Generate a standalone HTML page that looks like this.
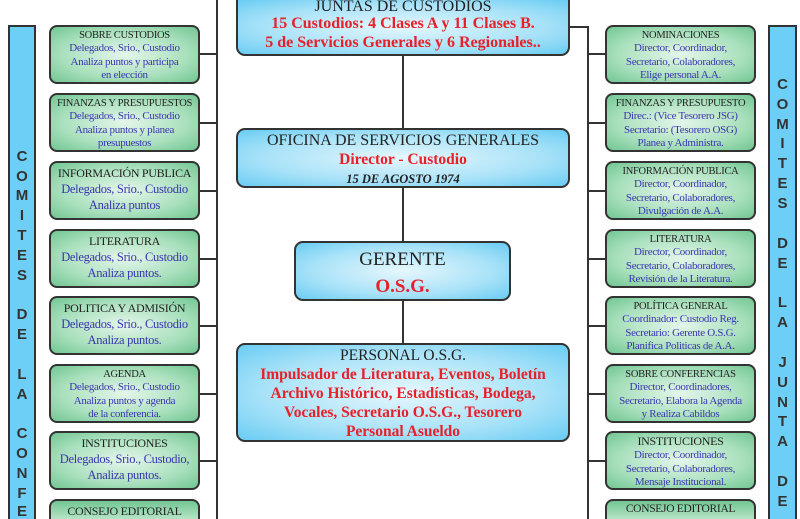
<!DOCTYPE html>
<html style="overflow:hidden;width:800px;height:519px"><head><meta charset="utf-8"><style>
body{margin:0;width:800px;height:519px;overflow:hidden;background:#fff;position:relative;font-family:"Liberation Serif",serif}
.ln{position:absolute;background:#333}
.side{position:absolute;background:#6ecff6;border:2px solid #333;border-bottom:none;box-sizing:border-box}
.lt{position:absolute;width:100%;text-align:center;font-family:"Liberation Sans",sans-serif;font-weight:bold;font-size:15px;color:#333;line-height:15px}
.g{position:absolute;width:151px;height:59px;box-sizing:border-box;border:2px solid #333;border-radius:8px;background:radial-gradient(ellipse at center,#e4f6ea 0%,#a9e0bd 60%,#72c693 100%);text-align:center;font-size:11px;line-height:13.3px;color:#3a35b0;padding-top:2px;letter-spacing:-0.3px;overflow:hidden}
.g.cut{height:20px;border-bottom:none;border-radius:8px 8px 0 0;background:linear-gradient(#72c693,#b5e4c6)}
.g b{color:#222;font-weight:normal;font-size:10.5px}
.g.big{font-size:12.5px;line-height:16px}
.b{position:absolute;box-sizing:border-box;border:2px solid #333;border-radius:9px;background:radial-gradient(ellipse at center,#e6f7fd 0%,#a8e2f8 60%,#69ccf3 100%);text-align:center;color:#e8202a;font-weight:bold}
.b .t{color:#222;font-weight:normal}
</style></head><body>
<div class="ln" style="left:216px;top:0;width:2px;height:519px"></div>
<div class="ln" style="left:587px;top:26px;width:2px;height:493px"></div>
<div class="ln" style="left:569px;top:26px;width:20px;height:2px"></div>
<div class="ln" style="left:402px;top:50px;width:2px;height:300px"></div>
<div class="ln" style="left:200px;top:53px;width:17px;height:2px"></div>
<div class="ln" style="left:200px;top:122px;width:17px;height:2px"></div>
<div class="ln" style="left:200px;top:190px;width:17px;height:2px"></div>
<div class="ln" style="left:200px;top:258px;width:17px;height:2px"></div>
<div class="ln" style="left:200px;top:325px;width:17px;height:2px"></div>
<div class="ln" style="left:200px;top:393px;width:17px;height:2px"></div>
<div class="ln" style="left:200px;top:460px;width:17px;height:2px"></div>
<div class="ln" style="left:588px;top:53px;width:17px;height:2px"></div>
<div class="ln" style="left:588px;top:122px;width:17px;height:2px"></div>
<div class="ln" style="left:588px;top:190px;width:17px;height:2px"></div>
<div class="ln" style="left:588px;top:258px;width:17px;height:2px"></div>
<div class="ln" style="left:588px;top:325px;width:17px;height:2px"></div>
<div class="ln" style="left:588px;top:393px;width:17px;height:2px"></div>
<div class="ln" style="left:588px;top:460px;width:17px;height:2px"></div>

<div class="side" style="left:8px;top:25px;width:28px;height:494px">
<div class="lt" style="top:122px">C</div><div class="lt" style="top:142px">O</div><div class="lt" style="top:161px">M</div><div class="lt" style="top:181px">I</div><div class="lt" style="top:201px">T</div><div class="lt" style="top:221px">E</div><div class="lt" style="top:241px">S</div>
<div class="lt" style="top:280px">D</div><div class="lt" style="top:300px">E</div>
<div class="lt" style="top:340px">L</div><div class="lt" style="top:360px">A</div>
<div class="lt" style="top:399px">C</div><div class="lt" style="top:419px">O</div><div class="lt" style="top:439px">N</div><div class="lt" style="top:459px">F</div><div class="lt" style="top:477px">E</div>
</div>
<div class="side" style="left:768px;top:25px;width:29px;height:494px">
<div class="lt" style="top:50px">C</div><div class="lt" style="top:70px">O</div><div class="lt" style="top:90px">M</div><div class="lt" style="top:109px">I</div><div class="lt" style="top:129px">T</div><div class="lt" style="top:149px">E</div><div class="lt" style="top:169px">S</div>
<div class="lt" style="top:209px">D</div><div class="lt" style="top:229px">E</div>
<div class="lt" style="top:268px">L</div><div class="lt" style="top:288px">A</div>
<div class="lt" style="top:328px">J</div><div class="lt" style="top:348px">U</div><div class="lt" style="top:368px">N</div><div class="lt" style="top:387px">T</div><div class="lt" style="top:407px">A</div>
<div class="lt" style="top:447px">D</div><div class="lt" style="top:467px">E</div>
</div>

<div class="g" style="left:49px;top:25px"><b>SOBRE CUSTODIOS</b><br>Delegados, Srio., Custodio<br>Analiza puntos y participa<br>en elección</div>
<div class="g" style="left:49px;top:93px"><b>FINANZAS Y PRESUPUESTOS</b><br>Delegados, Srio., Custodio<br>Analiza puntos y planea<br>presupuestos</div>
<div class="g big" style="left:49px;top:161px"><b style="font-size:12px">INFORMACIÓN PUBLICA</b><br>Delegados, Srio., Custodio<br>Analiza puntos</div>
<div class="g big" style="left:49px;top:229px"><b style="font-size:12px">LITERATURA</b><br>Delegados, Srio., Custodio<br>Analiza puntos.</div>
<div class="g big" style="left:49px;top:296px"><b style="font-size:12px">POLITICA Y ADMISIÓN</b><br>Delegados, Srio., Custodio<br>Analiza puntos.</div>
<div class="g" style="left:49px;top:364px"><b>AGENDA</b><br>Delegados, Srio., Custodio<br>Analiza puntos y agenda<br>de la conferencia.</div>
<div class="g big" style="left:49px;top:431px"><b style="font-size:12px">INSTITUCIONES</b><br>Delegados, Srio., Custodio,<br>Analiza puntos.</div>
<div class="g big cut" style="left:49px;top:499px"><b style="font-size:12px">CONSEJO EDITORIAL</b></div>

<div class="g" style="left:605px;top:25px"><b>NOMINACIONES</b><br>Director, Coordinador,<br>Secretario, Colaboradores,<br>Elige personal A.A.</div>
<div class="g" style="left:605px;top:93px"><b>FINANZAS Y PRESUPUESTO</b><br>Direc.: (Vice Tesorero JSG)<br>Secretario: (Tesorero OSG)<br>Planea y Administra.</div>
<div class="g" style="left:605px;top:161px"><b>INFORMACIÓN PUBLICA</b><br>Director, Coordinador,<br>Secretario, Colaboradores,<br>Divulgación de A.A.</div>
<div class="g" style="left:605px;top:229px"><b>LITERATURA</b><br>Director, Coordinador,<br>Secretario, Colaboradores,<br>Revisión de la Literatura.</div>
<div class="g" style="left:605px;top:296px"><b>POLÍTICA GENERAL</b><br>Coordinador: Custodio Reg.<br>Secretario: Gerente O.S.G.<br>Planifica Politicas de A.A.</div>
<div class="g" style="left:605px;top:364px"><b>SOBRE CONFERENCIAS</b><br>Director, Coordinadores,<br>Secretario, Elabora la Agenda<br>y Realiza Cabildos</div>
<div class="g" style="left:605px;top:431px"><b style="font-size:12px">INSTITUCIONES</b><br>Director, Coordinador,<br>Secretario, Colaboradores,<br>Mensaje Institucional.</div>
<div class="g cut" style="left:605px;top:499px"><b style="font-size:11.5px">CONSEJO EDITORIAL</b></div>

<div class="b" style="left:236px;top:0;width:334px;height:56px;border-top:none;border-radius:0 0 9px 9px;font-size:16px;line-height:19px;padding-top:0"><span class="t" style="font-size:16px;line-height:14px;display:block">JUNTAS DE CUSTODIOS</span>15 Custodios: 4 Clases A y 11 Clases B.<br>5 de Servicios Generales y 6 Regionales..</div>
<div class="b" style="left:236px;top:128px;width:334px;height:60px;font-size:15.5px;line-height:19px;padding-top:1px"><span class="t" style="font-size:16px">OFICINA DE SERVICIOS GENERALES</span><br>Director - Custodio<br><i class="t" style="font-weight:bold;font-size:12.5px">15 DE AGOSTO 1974</i></div>
<div class="b" style="left:294px;top:241px;width:217px;height:60px;font-size:19px;line-height:27px;padding-top:3px"><span class="t" style="font-size:19px">GERENTE</span><br>O.S.G.</div>
<div class="b" style="left:236px;top:343px;width:334px;height:99px;font-size:15.5px;line-height:19px;padding-top:1px"><span class="t" style="font-size:15.5px">PERSONAL O.S.G.</span><br>Impulsador de Literatura, Eventos, Boletín<br>Archivo Histórico, Estadísticas, Bodega,<br>Vocales, Secretario O.S.G., Tesorero<br>Personal Asueldo</div>
</body></html>
